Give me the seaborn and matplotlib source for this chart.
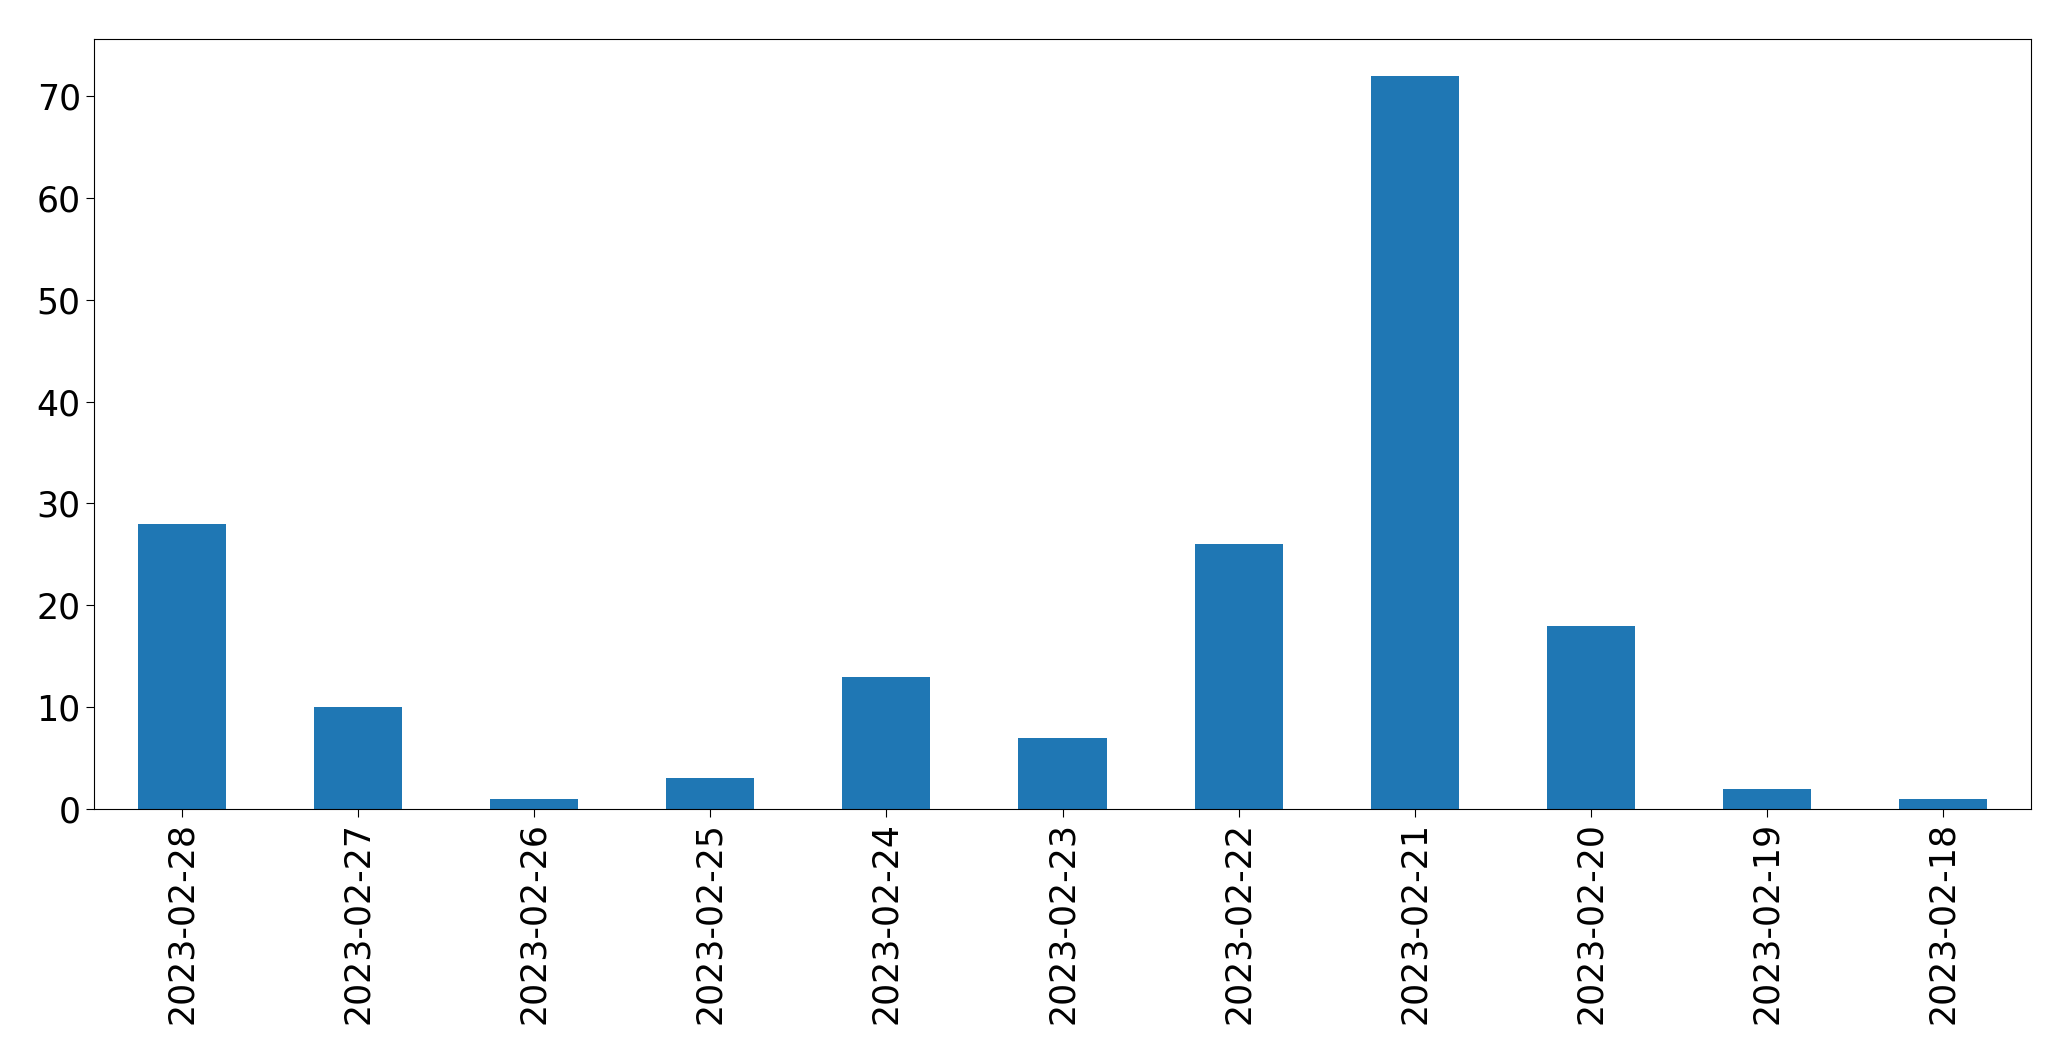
import pandas as pd
import matplotlib
matplotlib.use("Agg")
import matplotlib.pyplot as plt
import seaborn as sns

dates = ["2023-02-28", "2023-02-27", "2023-02-26", "2023-02-25", "2023-02-24", "2023-02-23",
         "2023-02-22", "2023-02-21", "2023-02-20", "2023-02-19", "2023-02-18"]
counts = [28, 10, 1, 3, 13, 7, 26, 72, 18, 2, 1]

data = pd.DataFrame({"date": dates, "count": counts})

fig = plt.figure(figsize=(20.71, 10.61), dpi=100)
ax = fig.add_axes([94 / 2071, 1 - 809 / 1061, (2031 - 94) / 2071, (809 - 39) / 1061])
sns.barplot(x="date", y="count", data=data, color="#1f77b4", saturation=1, width=0.5, ax=ax)
ax.set_xlim(-0.5, len(dates) - 0.5)
ax.set_ylim(0, 75.6)
plt.xticks(rotation=90)
ax.tick_params(labelsize=25, length=6)
ax.set_xlabel("")
ax.set_ylabel("")
fig.savefig("out.png", dpi=100)
